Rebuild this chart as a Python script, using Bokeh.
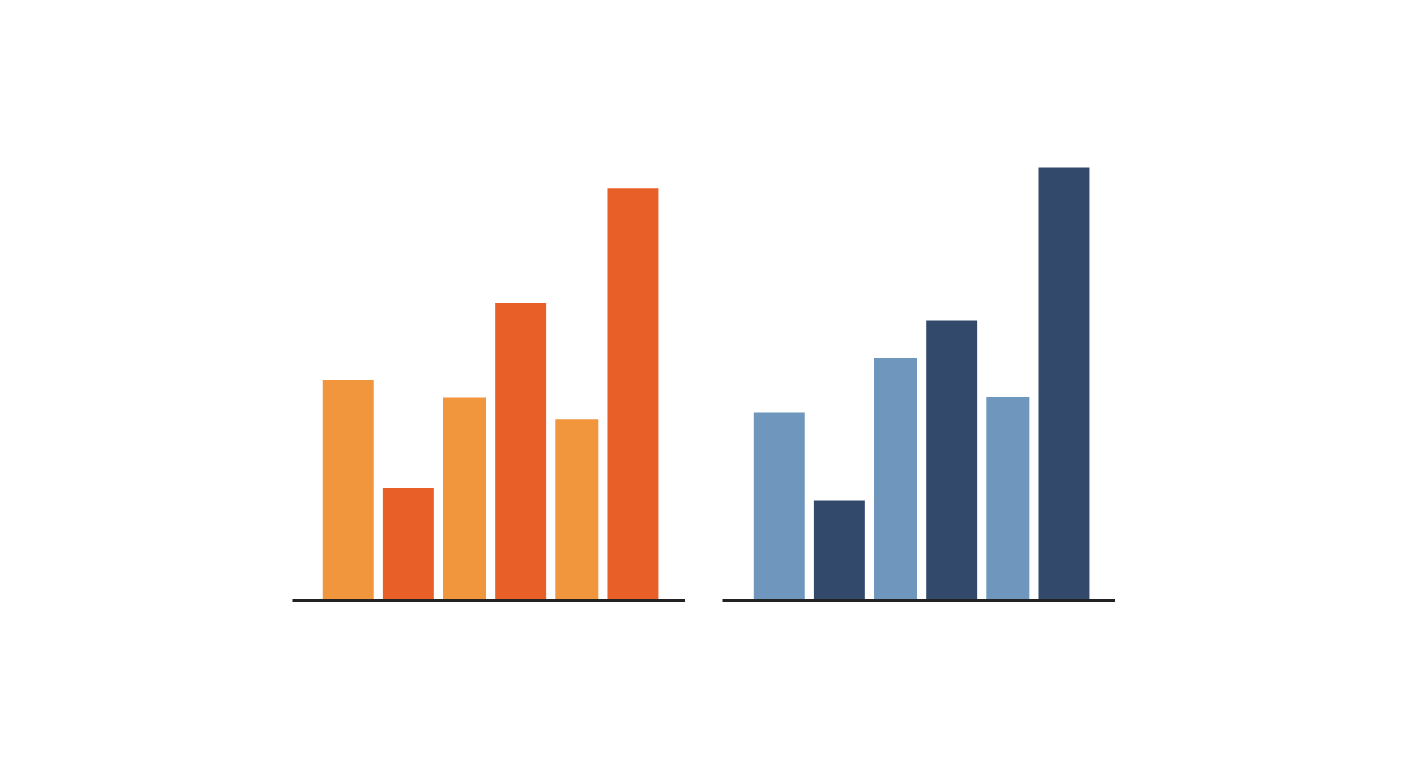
from bokeh.plotting import figure
from bokeh.models import Range1d, Spacer, ColumnDataSource
from bokeh.layouts import row
from bokeh.embed import file_html
from bokeh.resources import INLINE

# ---- data (arbitrary units, 0-100 scale) ----
categories = ["A", "B", "C", "D", "E", "F"]
orange_values = [49.0, 25.0, 45.1, 66.1, 40.3, 91.6]
blue_values = [41.8, 22.2, 53.9, 62.2, 45.2, 96.2]

# ---- styles ----
orange_colors = ["#F2963E", "#E85F27", "#F2963E", "#E85F27", "#F2963E", "#E85F27"]
blue_colors = ["#6F96BC", "#33496B", "#6F96BC", "#33496B", "#6F96BC", "#33496B"]
bar_widths = [0.9, 0.9, 0.76, 0.9, 0.76, 0.9]   # slot units
bar_gap = 0.162
FRAME_W = 393
FRAME_H = 450
SLOT_PX = 56.6


def centers_from_widths(widths, gap):
    out, left = [], 0.0
    for w in widths:
        out.append(left + w / 2.0)
        left += w + gap
    return out


def make_panel(values, colors, lead):
    xs = centers_from_widths(bar_widths, bar_gap)
    src = ColumnDataSource(dict(cat=categories, x=xs, top=values,
                                w=bar_widths, color=colors))
    span = FRAME_W / SLOT_PX
    p = figure(frame_width=FRAME_W, frame_height=FRAME_H,
               x_range=Range1d(-lead, span - lead), y_range=Range1d(0, 100),
               output_backend="svg", toolbar_location=None,
               min_border_left=0, min_border_right=0,
               min_border_top=150, min_border_bottom=10)
    p.vbar(x="x", top="top", bottom=0, width="w", color="color",
           line_color=None, source=src)
    p.yaxis.visible = False
    p.grid.visible = False
    p.outline_line_color = None
    p.background_fill_color = "#FFFFFF"
    p.border_fill_color = "#FFFFFF"
    ax = p.xaxis[0]
    ax.axis_line_color = "#222222"
    ax.axis_line_width = 3
    ax.major_tick_line_color = None
    ax.minor_tick_line_color = None
    ax.major_label_text_font_size = "0px"
    ax.major_label_text_color = None
    ax.major_tick_out = 0
    ax.major_tick_in = 0
    ax.minor_tick_out = 0
    ax.minor_tick_in = 0
    ax.major_label_standoff = 0
    return p


p1 = make_panel(orange_values, orange_colors, 0.535)
p2 = make_panel(blue_values, blue_colors, 0.553)

layout = row(Spacer(width=292, height=10), p1, Spacer(width=37, height=10), p2)

open("out.html", "w").write(file_html(layout, INLINE))
